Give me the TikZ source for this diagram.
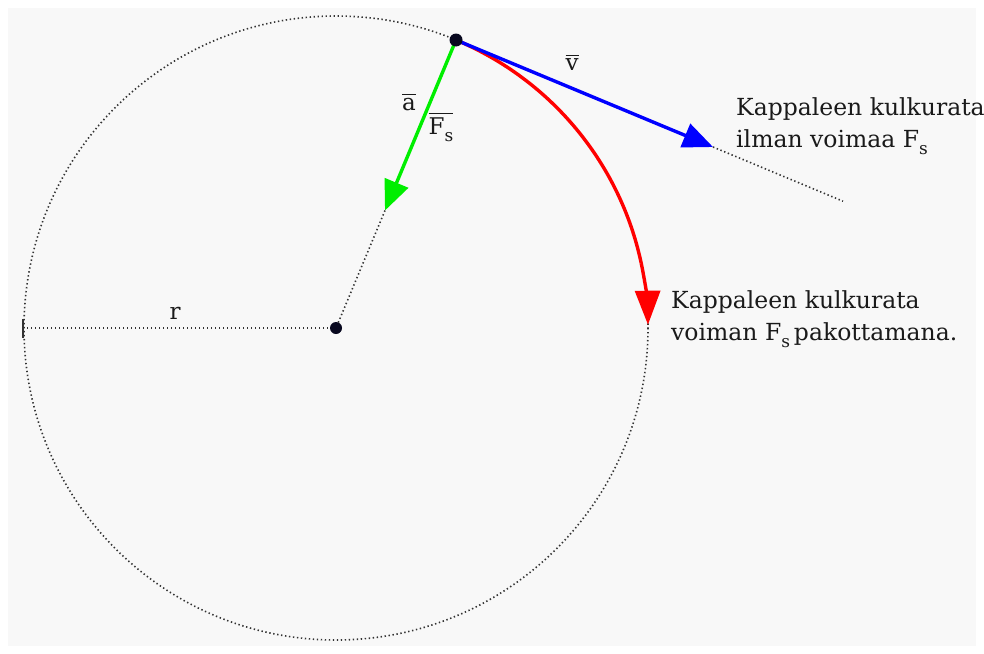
\documentclass[tikz,border=0pt]{standalone}
\usepackage{amsmath}
\usepackage{fontspec}
\setmainfont{DejaVu Serif}
\usetikzlibrary{arrows.meta,calc}
\definecolor{bggray}{HTML}{F8F8F8}
\definecolor{dotcol}{HTML}{333333}
\definecolor{txt}{HTML}{1A1A1A}
\definecolor{ptcol}{rgb}{0.03,0.03,0.12}
\definecolor{vgreen}{HTML}{00EE00}
\tikzset{
  dotline/.style={draw=dotcol, line width=1.6pt, dash pattern=on 1.4pt off 2.6pt},
  vec/.style={line width=3.4pt, -{Triangle[length=30pt,width=25pt]}},
  lbl/.style={text=txt, font=\fontsize{23}{26}\selectfont, inner sep=0pt},
  desc/.style={text=txt, font=\fontsize{23.5}{32}\selectfont, inner sep=0pt, align=left, anchor=north west},
  pt/.style={circle, fill=ptcol, inner sep=0pt}
}
\newcommand{\subS}{\raisebox{-0.32em}{\fontsize{17}{17}\selectfont s}}
\begin{document}
\begin{tikzpicture}[x=1pt,y=-1pt]
\useasboundingbox (0,0) rectangle (984,653);
\fill[bggray] (8,8) rectangle (976,646);
% key points
\coordinate (C) at (336,328);
\coordinate (P) at (456,40);
\coordinate (G) at (385,210.5);
\coordinate (T) at (713,147);
\coordinate (E) at (843,201.2);
\coordinate (L) at (23,328);
\coordinate (Lt) at (23,319);
\coordinate (Lb) at (23,338);
% dotted circle
\draw[dotline] (C) circle[radius=312];
% radius line with tick
\draw[dotline] (L) -- (C);
\draw[dotcol, line width=1.6pt] (Lt) -- (Lb);
% dotted continuation lines
\draw[dotline] (G) -- (C);
\draw[dotline] (T) -- (E);
% red path (two pieces so the arrow shortening does not distort the arc)
\draw[red, line width=3.4pt] (P) arc[start angle=-67.38, end angle=-12, radius=312] coordinate (R1);
\draw[red, line width=3.4pt, -{Triangle[length=34pt,width=25pt]}] (R1) arc[start angle=-12, end angle=-0.6, radius=312];
% vectors
\draw[vec, blue] (P) -- (T);
\draw[vec, vgreen] (P) -- (G);
% points
\node[pt, minimum size=13pt] (Pn) at (P) {};
\node[pt, minimum size=12pt] (Cn) at (C) {};
% labels
\node[lbl] (vl) at (572,62) {$\overline{\text{v}}$};
\node[lbl] (al) at (409,102) {$\overline{\text{a}}$};
\node[lbl] (fl) at (441,127) {$\overline{\text{F}\subS}$};
\node[lbl] (rl) at (175,313) {r};
\node[desc] (t1) at (736,97) {Kappaleen kulkurata\\ilman voimaa F\subS};
\node[desc] (t2) at (671,290) {Kappaleen kulkurata\\voiman F\subS\,pakottamana.};
\end{tikzpicture}
\end{document}
